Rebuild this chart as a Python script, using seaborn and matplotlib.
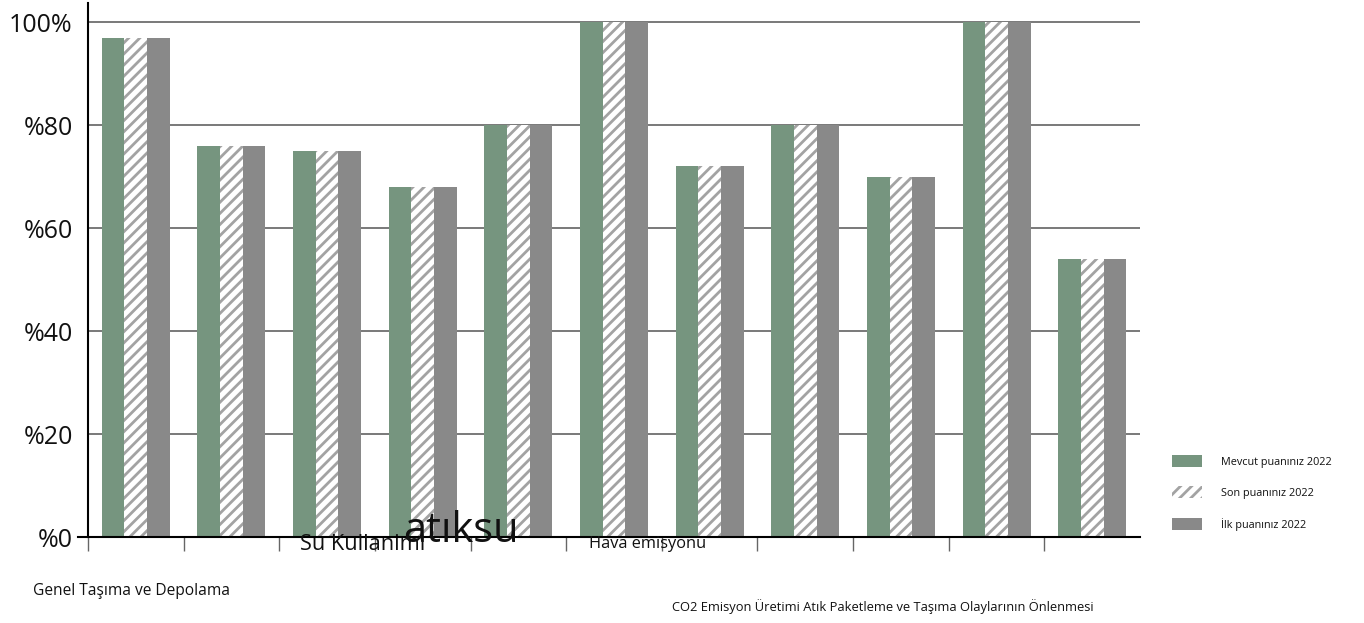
import pandas as pd
import matplotlib.pyplot as plt
import seaborn as sns
from matplotlib.patches import Patch

# categories (keys) and the three score series
categories = ["K1", "K2", "K3", "K4", "K5", "K6", "K7", "K8", "K9", "K10", "K11"]
mevcut = [97, 76, 75, 68, 80, 100, 72, 80, 70, 100, 54]
son = [97, 76, 75, 68, 80, 100, 72, 80, 70, 100, 54]
ilk = [97, 76, 75, 68, 80, 100, 72, 80, 70, 100, 54]
series_names = ["Mevcut puanınız 2022", "Son puanınız 2022", "İlk puanınız 2022"]
ytick_vals = [0, 20, 40, 60, 80, 100]
ytick_labels = ["%0", "%20", "%40", "%60", "%80", "100%"]

df = pd.DataFrame({
    "kategori": categories * 3,
    "puan": mevcut + son + ilk,
    "seri": [series_names[0]] * 11 + [series_names[1]] * 11 + [series_names[2]] * 11,
})

sns.set_style("white")
plt.rcParams["font.family"] = ["Open Sans", "DejaVu Sans"]
plt.rcParams["hatch.linewidth"] = 2.0
plt.rcParams["text.color"] = "#111111"

green = "#76957f"
gray = "#898989"
hatch_col = "#a3a3a3"

fig = plt.figure(figsize=(13.64, 6.23), dpi=100)
ax = fig.add_axes([0.0645, 0.138, 0.7713, 0.857])

sns.barplot(data=df, x="kategori", y="puan", hue="seri", order=categories,
            hue_order=series_names, palette=[green, "white", gray],
            width=0.71, ax=ax, legend=False, saturation=1)

n = len(categories)
for i, p in enumerate(ax.patches[:3 * n]):
    p.set_linewidth(0)
    if n <= i < 2 * n:
        p.set_hatch("///")
        p.set_edgecolor(hatch_col)

ax.set_ylim(0, 103.7)
ax.set_xlim(-0.5, n - 0.5)
ax.set_yticks(ytick_vals)
ax.set_yticklabels(ytick_labels, fontsize=18, color="#111111")
ax.tick_params(axis="y", length=0, pad=11)
ax.yaxis.grid(True, color="#555555", linewidth=1.1)
ax.set_axisbelow(True)

ax.set_xticks([i - 0.5 for i in range(n)])
ax.set_xticklabels([])
ax.tick_params(axis="x", bottom=True, direction="out", length=10, width=1, color="#666666")
ax.set_xlabel("")
ax.set_ylabel("")

for s in ["top", "right"]:
    ax.spines[s].set_visible(False)
ax.spines["left"].set_color("black")
ax.spines["left"].set_linewidth(1.5)
ax.spines["bottom"].set_color("black")
ax.spines["bottom"].set_linewidth(1.5)
ax.spines["bottom"].set_bounds(-0.6, n - 0.5)

# scattered category labels as in the original
fig.text(300 / 1364, 1 - 544 / 623, "Su Kullanimi", fontsize=15.7, va="center", ha="left")
fig.text(403 / 1364, 1 - 531 / 623, "atıksu", fontsize=30, va="center", ha="left")
fig.text(589 / 1364, 1 - 544 / 623, "Hava emisyonu", fontsize=11.8, va="center", ha="left")
fig.text(33 / 1364, 1 - 591 / 623, "Genel Taşıma ve Depolama", fontsize=11.2, va="center", ha="left")
fig.text(672 / 1364, 1 - 607 / 623,
         "CO2 Emisyon Üretimi Atık Paketleme ve Taşıma Olaylarının Önlenmesi",
         fontsize=9.3, va="center", ha="left")

handles = [Patch(facecolor=green, linewidth=0),
           Patch(facecolor="white", edgecolor=hatch_col, hatch="///", linewidth=0),
           Patch(facecolor=gray, linewidth=0)]
fig.legend(handles, series_names, loc="upper left", bbox_to_anchor=(1172 / 1364, 1 - 455 / 623),
           frameon=False, fontsize=7.8, handlelength=2.8, handleheight=1.3,
           handletextpad=1.7, labelspacing=1.75, borderpad=0, borderaxespad=0)

fig.savefig("out.png", dpi=100)
